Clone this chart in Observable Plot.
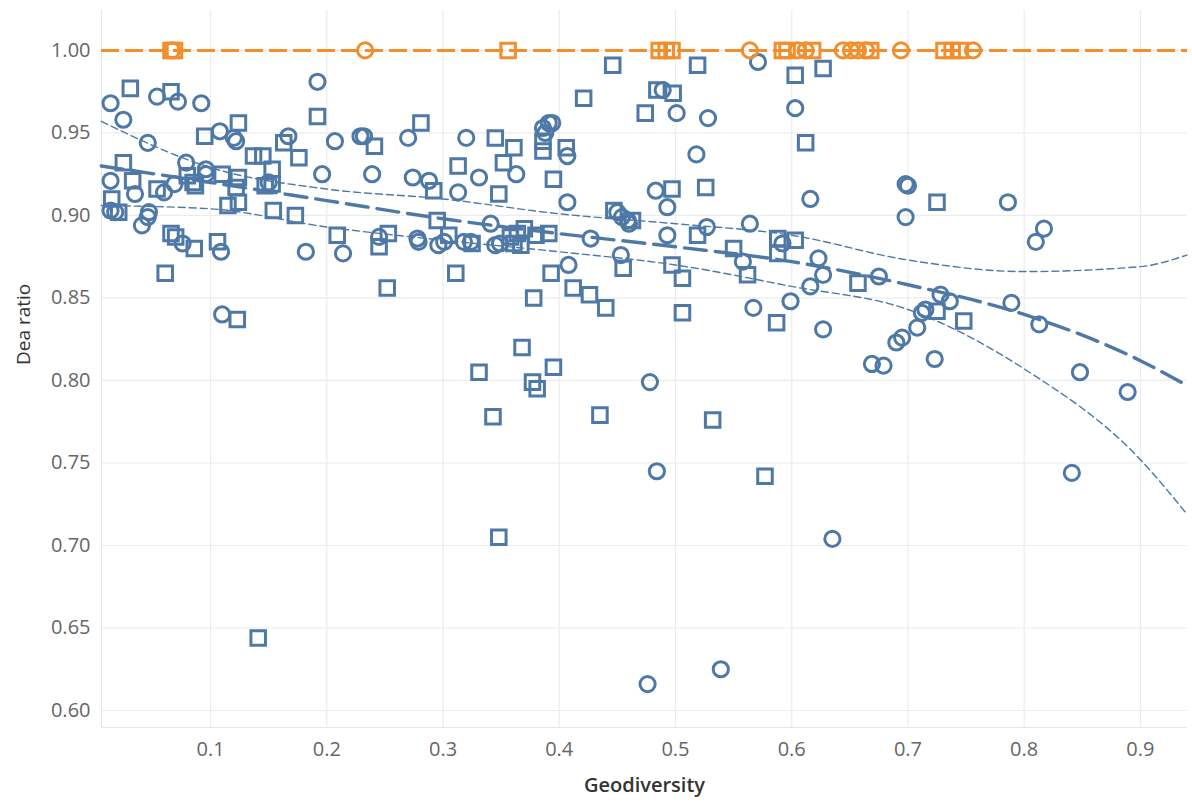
<!DOCTYPE html>
<html>
<head>
<meta charset="utf-8">
<script src="https://cdn.jsdelivr.net/npm/d3@7"></script>
<script src="https://cdn.jsdelivr.net/npm/@observablehq/plot@0.6"></script>
<style>
  html, body { margin: 0; padding: 0; background: #fff; }
  #chart svg { display: block; }
</style>
</head>
<body>
<div id="chart"></div>
<script>
// Blue (inefficient) units — circles: [geodiversity, dea ratio]
const blueCircles = [
  [0.014,0.968],[0.025,0.958],[0.054,0.972],[0.072,0.969],[0.092,0.968],[0.192,0.981],
  [0.046,0.944],[0.108,0.951],[0.120,0.947],[0.122,0.945],[0.167,0.948],[0.207,0.945],
  [0.229,0.948],[0.232,0.948],[0.196,0.925],[0.239,0.925],[0.014,0.921],[0.035,0.913],
  [0.014,0.903],[0.018,0.902],[0.047,0.902],[0.046,0.899],[0.041,0.894],[0.060,0.914],
  [0.069,0.919],[0.079,0.932],[0.096,0.928],[0.096,0.925],[0.150,0.920],[0.076,0.883],
  [0.109,0.878],[0.182,0.878],[0.214,0.877],[0.110,0.840],[0.270,0.947],[0.274,0.923],
  [0.288,0.921],[0.313,0.914],[0.320,0.947],[0.331,0.923],[0.363,0.925],[0.386,0.953],
  [0.391,0.956],[0.394,0.956],[0.388,0.950],[0.407,0.936],[0.407,0.908],[0.245,0.887],
  [0.278,0.886],[0.279,0.884],[0.296,0.882],[0.301,0.884],[0.318,0.884],[0.324,0.884],
  [0.341,0.895],[0.345,0.882],[0.349,0.883],[0.427,0.886],[0.408,0.870],[0.453,0.876],
  [0.450,0.902],[0.454,0.899],[0.459,0.897],[0.460,0.895],[0.483,0.915],[0.493,0.905],
  [0.493,0.888],[0.489,0.976],[0.501,0.962],[0.528,0.959],[0.518,0.937],[0.527,0.893],
  [0.564,0.895],[0.558,0.872],[0.571,0.993],[0.603,0.965],[0.616,0.910],[0.592,0.883],
  [0.623,0.874],[0.627,0.864],[0.616,0.857],[0.599,0.848],[0.567,0.844],[0.627,0.831],
  [0.675,0.863],[0.698,0.919],[0.700,0.918],[0.698,0.899],[0.786,0.908],[0.810,0.884],
  [0.817,0.892],[0.728,0.852],[0.736,0.848],[0.712,0.841],[0.715,0.843],[0.708,0.832],
  [0.695,0.826],[0.690,0.823],[0.669,0.810],[0.679,0.809],[0.723,0.813],[0.789,0.847],
  [0.813,0.834],[0.848,0.805],[0.889,0.793],[0.841,0.744],[0.635,0.704],[0.484,0.745],
  [0.478,0.799],[0.476,0.616],[0.539,0.625]
];
// Blue (inefficient) units — squares
const blueSquares = [
  [0.031,0.977],[0.066,0.975],[0.192,0.960],[0.095,0.948],[0.124,0.956],[0.137,0.936],
  [0.145,0.936],[0.163,0.944],[0.176,0.935],[0.241,0.942],[0.025,0.932],[0.033,0.921],
  [0.015,0.910],[0.021,0.902],[0.054,0.916],[0.080,0.924],[0.085,0.920],[0.087,0.918],
  [0.110,0.925],[0.124,0.923],[0.122,0.917],[0.115,0.906],[0.124,0.908],[0.153,0.928],
  [0.153,0.919],[0.147,0.918],[0.154,0.903],[0.173,0.900],[0.066,0.889],[0.070,0.887],
  [0.086,0.880],[0.106,0.884],[0.061,0.865],[0.209,0.888],[0.123,0.837],[0.252,0.856],
  [0.311,0.865],[0.141,0.644],[0.281,0.956],[0.292,0.915],[0.313,0.930],[0.345,0.947],
  [0.361,0.941],[0.352,0.932],[0.348,0.913],[0.386,0.945],[0.386,0.939],[0.406,0.941],
  [0.395,0.922],[0.421,0.971],[0.253,0.889],[0.245,0.881],[0.295,0.897],[0.305,0.888],
  [0.325,0.883],[0.358,0.887],[0.364,0.889],[0.370,0.892],[0.367,0.882],[0.361,0.883],
  [0.380,0.888],[0.391,0.889],[0.393,0.865],[0.412,0.856],[0.426,0.852],[0.440,0.844],
  [0.378,0.850],[0.368,0.820],[0.331,0.805],[0.377,0.799],[0.381,0.795],[0.395,0.808],
  [0.343,0.778],[0.435,0.779],[0.532,0.776],[0.577,0.742],[0.348,0.705],[0.446,0.991],
  [0.519,0.991],[0.484,0.976],[0.498,0.974],[0.474,0.962],[0.497,0.916],[0.526,0.917],
  [0.447,0.903],[0.463,0.897],[0.519,0.888],[0.550,0.880],[0.562,0.864],[0.497,0.870],
  [0.506,0.862],[0.506,0.841],[0.455,0.868],[0.587,0.835],[0.588,0.886],[0.603,0.885],
  [0.588,0.877],[0.657,0.859],[0.603,0.985],[0.627,0.989],[0.612,0.944],[0.725,0.908],
  [0.725,0.842],[0.748,0.836]
];
// Orange (efficient, dea ratio = 1.00) units: geodiversity values
const orangeCircleX = [0.067,0.233,0.564,0.605,0.612,0.644,0.651,0.657,0.664,0.694,0.756];
const orangeSquareX = [0.066,0.069,0.356,0.486,0.492,0.497,0.592,0.596,0.618,0.668,0.731,0.738,0.745];
const efficientRatio = 1.0;

// Trend line and its confidence bands
const trendX     = [0.006,0.1,0.2,0.3,0.4,0.5,0.6,0.7,0.8,0.9,0.94];
const trendMid   = [0.930,0.920,0.909,0.898,0.889,0.881,0.872,0.858,0.840,0.812,0.797];
const trendUpper = [0.957,0.929,0.916,0.910,0.901,0.895,0.888,0.873,0.866,0.869,0.876];
const trendLower = [0.906,0.904,0.893,0.885,0.878,0.870,0.857,0.843,0.807,0.752,0.719];

// Axis ticks
const xTicks = [0.1,0.2,0.3,0.4,0.5,0.6,0.7,0.8,0.9];
const yTicks = [0.60,0.65,0.70,0.75,0.80,0.85,0.90,0.95,1.00];

const BLUE = "#4e79a7";
const ORANGE = "#f28e2b";
const FONT = "'Open Sans', Lato, sans-serif";

const circles = blueCircles.map(([x, y]) => ({x, y}));
const squares = blueSquares.map(([x, y]) => ({x, y}));
const oCircles = orangeCircleX.map(x => ({x, y: efficientRatio}));
const oSquares = orangeSquareX.map(x => ({x, y: efficientRatio}));
const trend = trendX.map((x, i) => ({x, mid: trendMid[i], up: trendUpper[i], lo: trendLower[i]}));

const xDomain = [0.0062, 0.9405];
const yDomain = [0.5897, 1.0242];

const chart = Plot.plot({
  width: 1192,
  height: 807,
  marginLeft: 101,
  marginRight: 5,
  marginTop: 10,
  marginBottom: 80,
  style: {fontFamily: FONT, background: "#fff"},
  x: {domain: xDomain},
  y: {domain: yDomain},
  marks: [
    Plot.gridY(yTicks, {stroke: "#ececec", strokeOpacity: 1, strokeWidth: 1.2}),
    Plot.gridX(xTicks, {stroke: "#ececec", strokeOpacity: 1, strokeWidth: 1.2}),
    Plot.ruleX([xDomain[0]], {stroke: "#e6e6e6", strokeWidth: 1.2}),
    Plot.ruleY([yDomain[0]], {stroke: "#e6e6e6", strokeWidth: 1.2}),
    Plot.axisY(yTicks, {tickSize: 0, tickPadding: 11, tickFormat: d3.format(".2f"), fontSize: 20, fill: "#666", label: null}),
    Plot.axisX(xTicks, {tickSize: 0, tickPadding: 14, tickFormat: d3.format(".1f"), fontSize: 20, fill: "#666", label: null}),
    Plot.text(["Geodiversity"], {frameAnchor: "bottom", dy: 64, fontSize: 20, fontWeight: 600, fill: "#333"}),
    Plot.text(["Dea ratio"], {frameAnchor: "left", dx: -78, dy: -4, rotate: -90, fontSize: 19, fill: "#333"}),
    Plot.ruleY([efficientRatio], {stroke: ORANGE, strokeWidth: 3, strokeDasharray: "18,6"}),
    Plot.dot(circles, {x: "x", y: "y", r: 7.6, symbol: "circle", stroke: BLUE, strokeWidth: 3, fill: "none"}),
    Plot.dot(squares, {x: "x", y: "y", r: 8.2, symbol: "square", stroke: BLUE, strokeWidth: 3, fill: "none"}),
    Plot.dot(oCircles, {x: "x", y: "y", r: 7.6, symbol: "circle", stroke: ORANGE, strokeWidth: 3, fill: "none"}),
    Plot.dot(oSquares, {x: "x", y: "y", r: 8.2, symbol: "square", stroke: ORANGE, strokeWidth: 3, fill: "none"}),
    Plot.line(trend, {x: "x", y: "up", curve: "monotone-x", stroke: BLUE, strokeWidth: 1.4, strokeDasharray: "7,4"}),
    Plot.line(trend, {x: "x", y: "lo", curve: "monotone-x", stroke: BLUE, strokeWidth: 1.4, strokeDasharray: "7,4"}),
    Plot.line(trend, {x: "x", y: "mid", curve: "monotone-x", stroke: BLUE, strokeWidth: 3.4, strokeDasharray: "22,9"})
  ]
});
document.getElementById("chart").appendChild(chart);
</script>
</body>
</html>
